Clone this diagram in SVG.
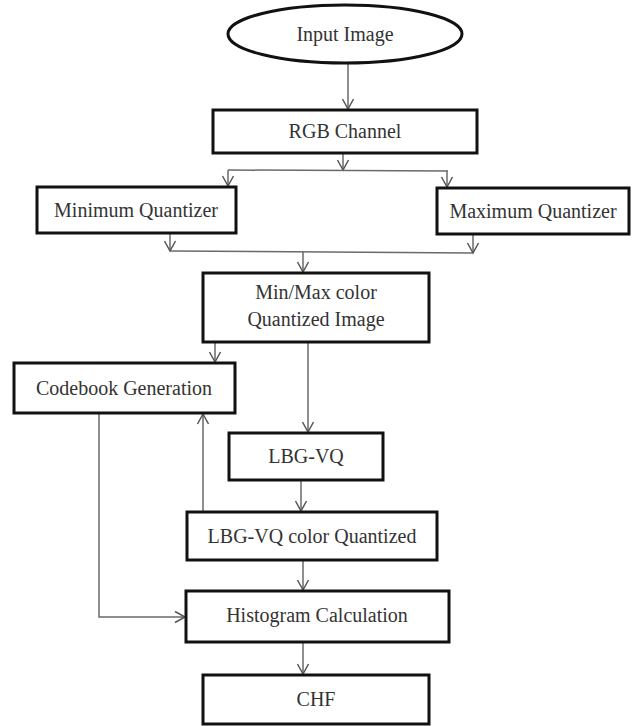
<svg xmlns="http://www.w3.org/2000/svg" width="638" height="726" viewBox="0 0 638 726">
  <style>
    .box { fill: #ffffff; stroke: #111111; stroke-width: 3; }
    .lbl { font-family: 'Liberation Serif', Tinos, 'DejaVu Serif', serif; font-size: 20px; fill: #333333; text-anchor: middle; }
    .edge { fill: none; stroke: #6a6a6a; stroke-width: 1.5; }
    .arr { marker-end: url(#head); }
  </style>
  <defs>
    <marker id="head" markerUnits="userSpaceOnUse" markerWidth="14" markerHeight="14" viewBox="0 0 14 14" refX="12" refY="7" orient="auto">
      <path d="M2,1.5 L12,7 L2,12.5" fill="none" stroke="#555555" stroke-width="1.5"/>
    </marker>
  </defs>
  <rect width="638" height="726" fill="#ffffff"/>

  <!-- connectors -->
  <g id="connectors">
    <path class="edge arr" d="M348,63 V109"/>
    <path class="edge arr" d="M343,153 V170"/>
    <path class="edge" d="M228,170 L448,171"/>
    <path class="edge arr" d="M228,170 V186"/>
    <path class="edge arr" d="M447,171 V187"/>
    <path class="edge arr" d="M170,233 V251"/>
    <path class="edge arr" d="M473,234 V253"/>
    <path class="edge" d="M170,251 L473,253"/>
    <path class="edge arr" d="M303,252 V272"/>
    <path class="edge arr" d="M215,342 V362"/>
    <path class="edge arr" d="M308,342 V432"/>
    <path class="edge arr" d="M301,480 V511"/>
    <path class="edge arr" d="M203,512 V414"/>
    <path class="edge arr" d="M303,560 V590"/>
    <path class="edge arr" d="M99,413 V617 H185"/>
    <path class="edge arr" d="M303,642 V674"/>
  </g>

  <g id="input-image">
    <ellipse class="box" cx="345" cy="34" rx="117" ry="29"/>
    <text class="lbl" x="345" y="41">Input Image</text>
  </g>
  <g id="rgb-channel">
    <rect class="box" x="213" y="110" width="264" height="43"/>
    <text class="lbl" x="345" y="138">RGB Channel</text>
  </g>
  <g id="minimum-quantizer">
    <rect class="box" x="37" y="187" width="199" height="46"/>
    <text class="lbl" x="136" y="217">Minimum Quantizer</text>
  </g>
  <g id="maximum-quantizer">
    <rect class="box" x="437" y="188" width="192" height="46"/>
    <text class="lbl" x="533" y="218">Maximum Quantizer</text>
  </g>
  <g id="minmax-quantized">
    <rect class="box" x="203" y="273" width="226" height="69"/>
    <text class="lbl" x="316" y="299">Min/Max color</text>
    <text class="lbl" x="316" y="326">Quantized Image</text>
  </g>
  <g id="codebook-generation">
    <rect class="box" x="14" y="363" width="221" height="50"/>
    <text class="lbl" x="124" y="395">Codebook Generation</text>
  </g>
  <g id="lbg-vq">
    <rect class="box" x="229" y="433" width="154" height="47"/>
    <text class="lbl" x="306" y="463">LBG-VQ</text>
  </g>
  <g id="lbg-vq-color">
    <rect class="box" x="187" y="512" width="250" height="48"/>
    <text class="lbl" x="312" y="543">LBG-VQ color Quantized</text>
  </g>
  <g id="histogram-calculation">
    <rect class="box" x="186" y="591" width="263" height="51"/>
    <text class="lbl" x="317" y="622">Histogram Calculation</text>
  </g>
  <g id="chf">
    <rect class="box" x="203" y="675" width="226" height="49"/>
    <text class="lbl" x="316" y="706">CHF</text>
  </g>
</svg>
